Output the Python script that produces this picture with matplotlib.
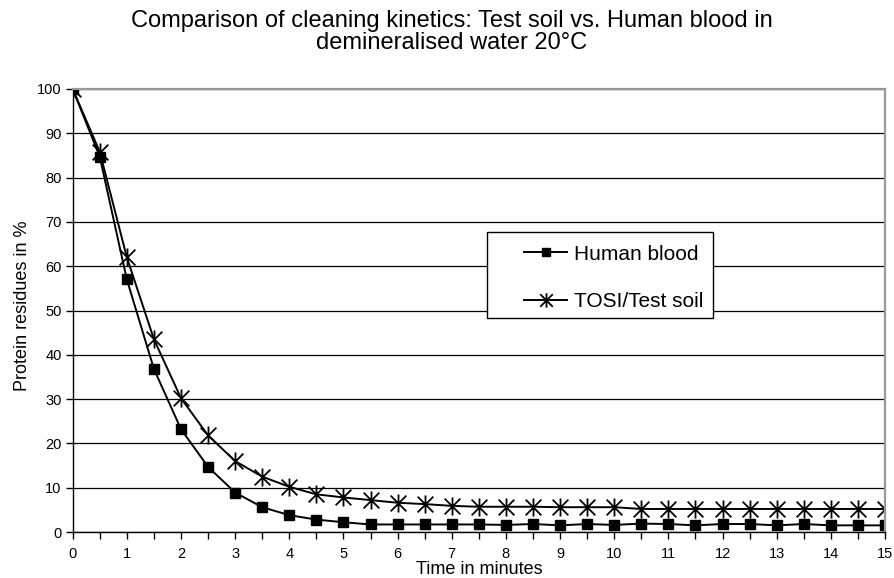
import matplotlib
matplotlib.use("Agg")
import matplotlib.pyplot as plt
from matplotlib.path import Path
from matplotlib.patches import Rectangle
import numpy as np

plt.rcParams['font.family'] = ['Liberation Sans', 'DejaVu Sans']

time_min = [0, 0.5, 1, 1.5, 2, 2.5, 3, 3.5, 4, 4.5, 5, 5.5, 6, 6.5, 7, 7.5, 8, 8.5, 9, 9.5,
            10, 10.5, 11, 11.5, 12, 12.5, 13, 13.5, 14, 14.5, 15]
human_blood = [100, 84.7, 57.0, 36.8, 23.2, 14.7, 8.9, 5.6, 3.8, 2.8, 2.2, 1.7, 1.7, 1.7, 1.7, 1.7,
               1.6, 1.8, 1.5, 1.8, 1.6, 1.9, 1.8, 1.5, 1.8, 1.8, 1.5, 1.8, 1.5, 1.5, 1.5]
tosi_soil = [100, 85.8, 62.0, 43.5, 30.2, 21.8, 16.0, 12.5, 10.2, 8.5, 7.8, 7.2, 6.6, 6.3, 5.9, 5.7,
             5.7, 5.7, 5.6, 5.6, 5.6, 5.2, 5.2, 5.2, 5.2, 5.2, 5.2, 5.2, 5.2, 5.2, 5.2]
series_labels = ["Human blood", "TOSI/Test soil"]

# asterisk marker: X plus vertical bar
star_path = Path([(-1, -1), (1, 1), (-1, 1), (1, -1), (0, -1.15), (0, 1.15)],
                 [Path.MOVETO, Path.LINETO, Path.MOVETO, Path.LINETO, Path.MOVETO, Path.LINETO])

W, H = 895, 578
fig = plt.figure(figsize=(8.95, 5.78), dpi=100)
ax_l, ax_r, ax_t, ax_b = 72.7, 885, 89, 532
ax = fig.add_axes([ax_l / W, 1 - ax_b / H, (ax_r - ax_l) / W, (ax_b - ax_t) / H])

ax.plot(time_min, human_blood, color='black', lw=1.4, marker='s', ms=7.8, label=series_labels[0])
ax.plot(time_min, tosi_soil, color='black', lw=1.4, marker=star_path, ms=13, mew=1.3,
        mfc='none', label=series_labels[1])

ax.set_xlim(0, 15)
ax.set_ylim(0, 100)
xt = np.arange(0, 15.01, 0.5)
ax.set_xticks(xt)
ax.set_xticklabels([str(int(t)) if t == int(t) else '' for t in xt])
ax.set_yticks(np.arange(0, 101, 10))
ax.tick_params(axis='both', direction='out', length=5, width=1, labelsize=10.5, colors='black')
ax.tick_params(axis='x', pad=6)
ax.tick_params(axis='y', pad=3)
ax.yaxis.grid(True, color='black', lw=0.9)
ax.set_axisbelow(True)
for s in ['top', 'right']:
    ax.spines[s].set_color('#999999')
    ax.spines[s].set_linewidth(1.6)
for s in ['left', 'bottom']:
    ax.spines[s].set_color('black')
    ax.spines[s].set_linewidth(1)

ax.set_xlabel("Time in minutes", fontsize=13, va='center')
ax.xaxis.set_label_coords(((479 - ax_l) / (ax_r - ax_l)), -(569 - ax_b) / (ax_b - ax_t))
ax.set_ylabel("Protein residues in %", fontsize=13, va='center')
ax.yaxis.set_label_coords(-(ax_l - 23) / (ax_r - ax_l), (ax_b - 306) / (ax_b - ax_t))

fig.text(452 / W, 1 - 10 / H,
         "Comparison of cleaning kinetics: Test soil vs. Human blood in\ndemineralised water 20°C",
         fontsize=17, ha='center', va='top', linespacing=1.0)

# legend frame drawn separately (asymmetric padding in the reference)
lx0, lx1, ly0, ly1 = 487, 713, 232, 318
frame = Rectangle((lx0 / W, 1 - ly1 / H), (lx1 - lx0) / W, (ly1 - ly0) / H,
                  transform=fig.transFigure, facecolor='white', edgecolor='black', lw=1.0,
                  zorder=5)
fig.add_artist(frame)
leg = fig.legend(loc='upper left', bbox_to_anchor=(507 / W, 1 - 228 / H), fontsize=15,
                 frameon=False, handlelength=2.1, handletextpad=0.3, borderpad=0.3,
                 labelspacing=1.35, markerscale=0.8)
leg.set_zorder(6)

fig.savefig("out.png", dpi=100, facecolor='white')
